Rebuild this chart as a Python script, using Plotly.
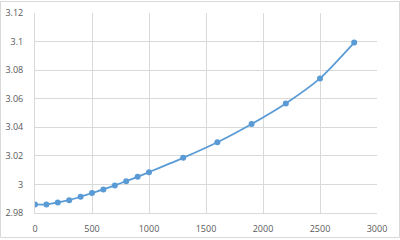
import plotly.graph_objects as go

x_vals = [0, 100, 200, 300, 400, 500, 600, 700, 800, 900, 1000, 1300, 1600, 1900, 2200, 2500, 2800]
y_vals = [2.9860, 2.9860, 2.9874, 2.9890, 2.9914, 2.9940, 2.9965, 2.9993, 3.0023, 3.0053,
          3.0086, 3.0186, 3.0295, 3.0423, 3.0567, 3.0742, 3.0993]
x_ticks = [0, 500, 1000, 1500, 2000, 2500, 3000]
y_ticks = [2.98, 3.0, 3.02, 3.04, 3.06, 3.08, 3.1, 3.12]
y_tick_text = ["2.98", "3", "3.02", "3.04", "3.06", "3.08", "3.1", "3.12"]

W, H = 400, 240
ml, mr, mt, mb = 35, 23, 13, 27

fig = go.Figure(go.Scatter(
    x=x_vals, y=y_vals, mode="lines+markers",
    line=dict(color="#5b9bd5", width=1.75, shape="spline", smoothing=0.6),
    marker=dict(color="#5b9bd5", size=6),
))

pw = W - ml - mr
ph = H - mt - mb
fig.add_shape(type="rect", xref="paper", yref="paper",
              x0=(0.5 - ml) / pw, x1=(W - 0.5 - ml) / pw,
              y0=-(mb - 2.5) / ph, y1=1 + (mt - 1.5) / ph,
              line=dict(color="#d9d9d9", width=1), layer="below")

fig.update_layout(
    width=W, height=H, margin=dict(l=ml, r=mr, t=mt, b=mb),
    paper_bgcolor="white", plot_bgcolor="white",
    showlegend=False,
    font=dict(family="Open Sans, Liberation Sans, sans-serif", size=9, color="#595959"),
    xaxis=dict(range=[0, 3000], tickvals=x_ticks, showgrid=True, gridcolor="#d9d9d9",
               gridwidth=1, zeroline=False, showline=True, linecolor="#d9d9d9",
               ticks="", ticklabelstandoff=7, automargin=False),
    yaxis=dict(range=[2.98, 3.12], tickvals=y_ticks, ticktext=y_tick_text, showgrid=True,
               gridcolor="#d9d9d9", gridwidth=1, zeroline=False, showline=True,
               linecolor="#d9d9d9", ticks="", ticklabelstandoff=9, automargin=False),
)

fig.write_html("out.html")
